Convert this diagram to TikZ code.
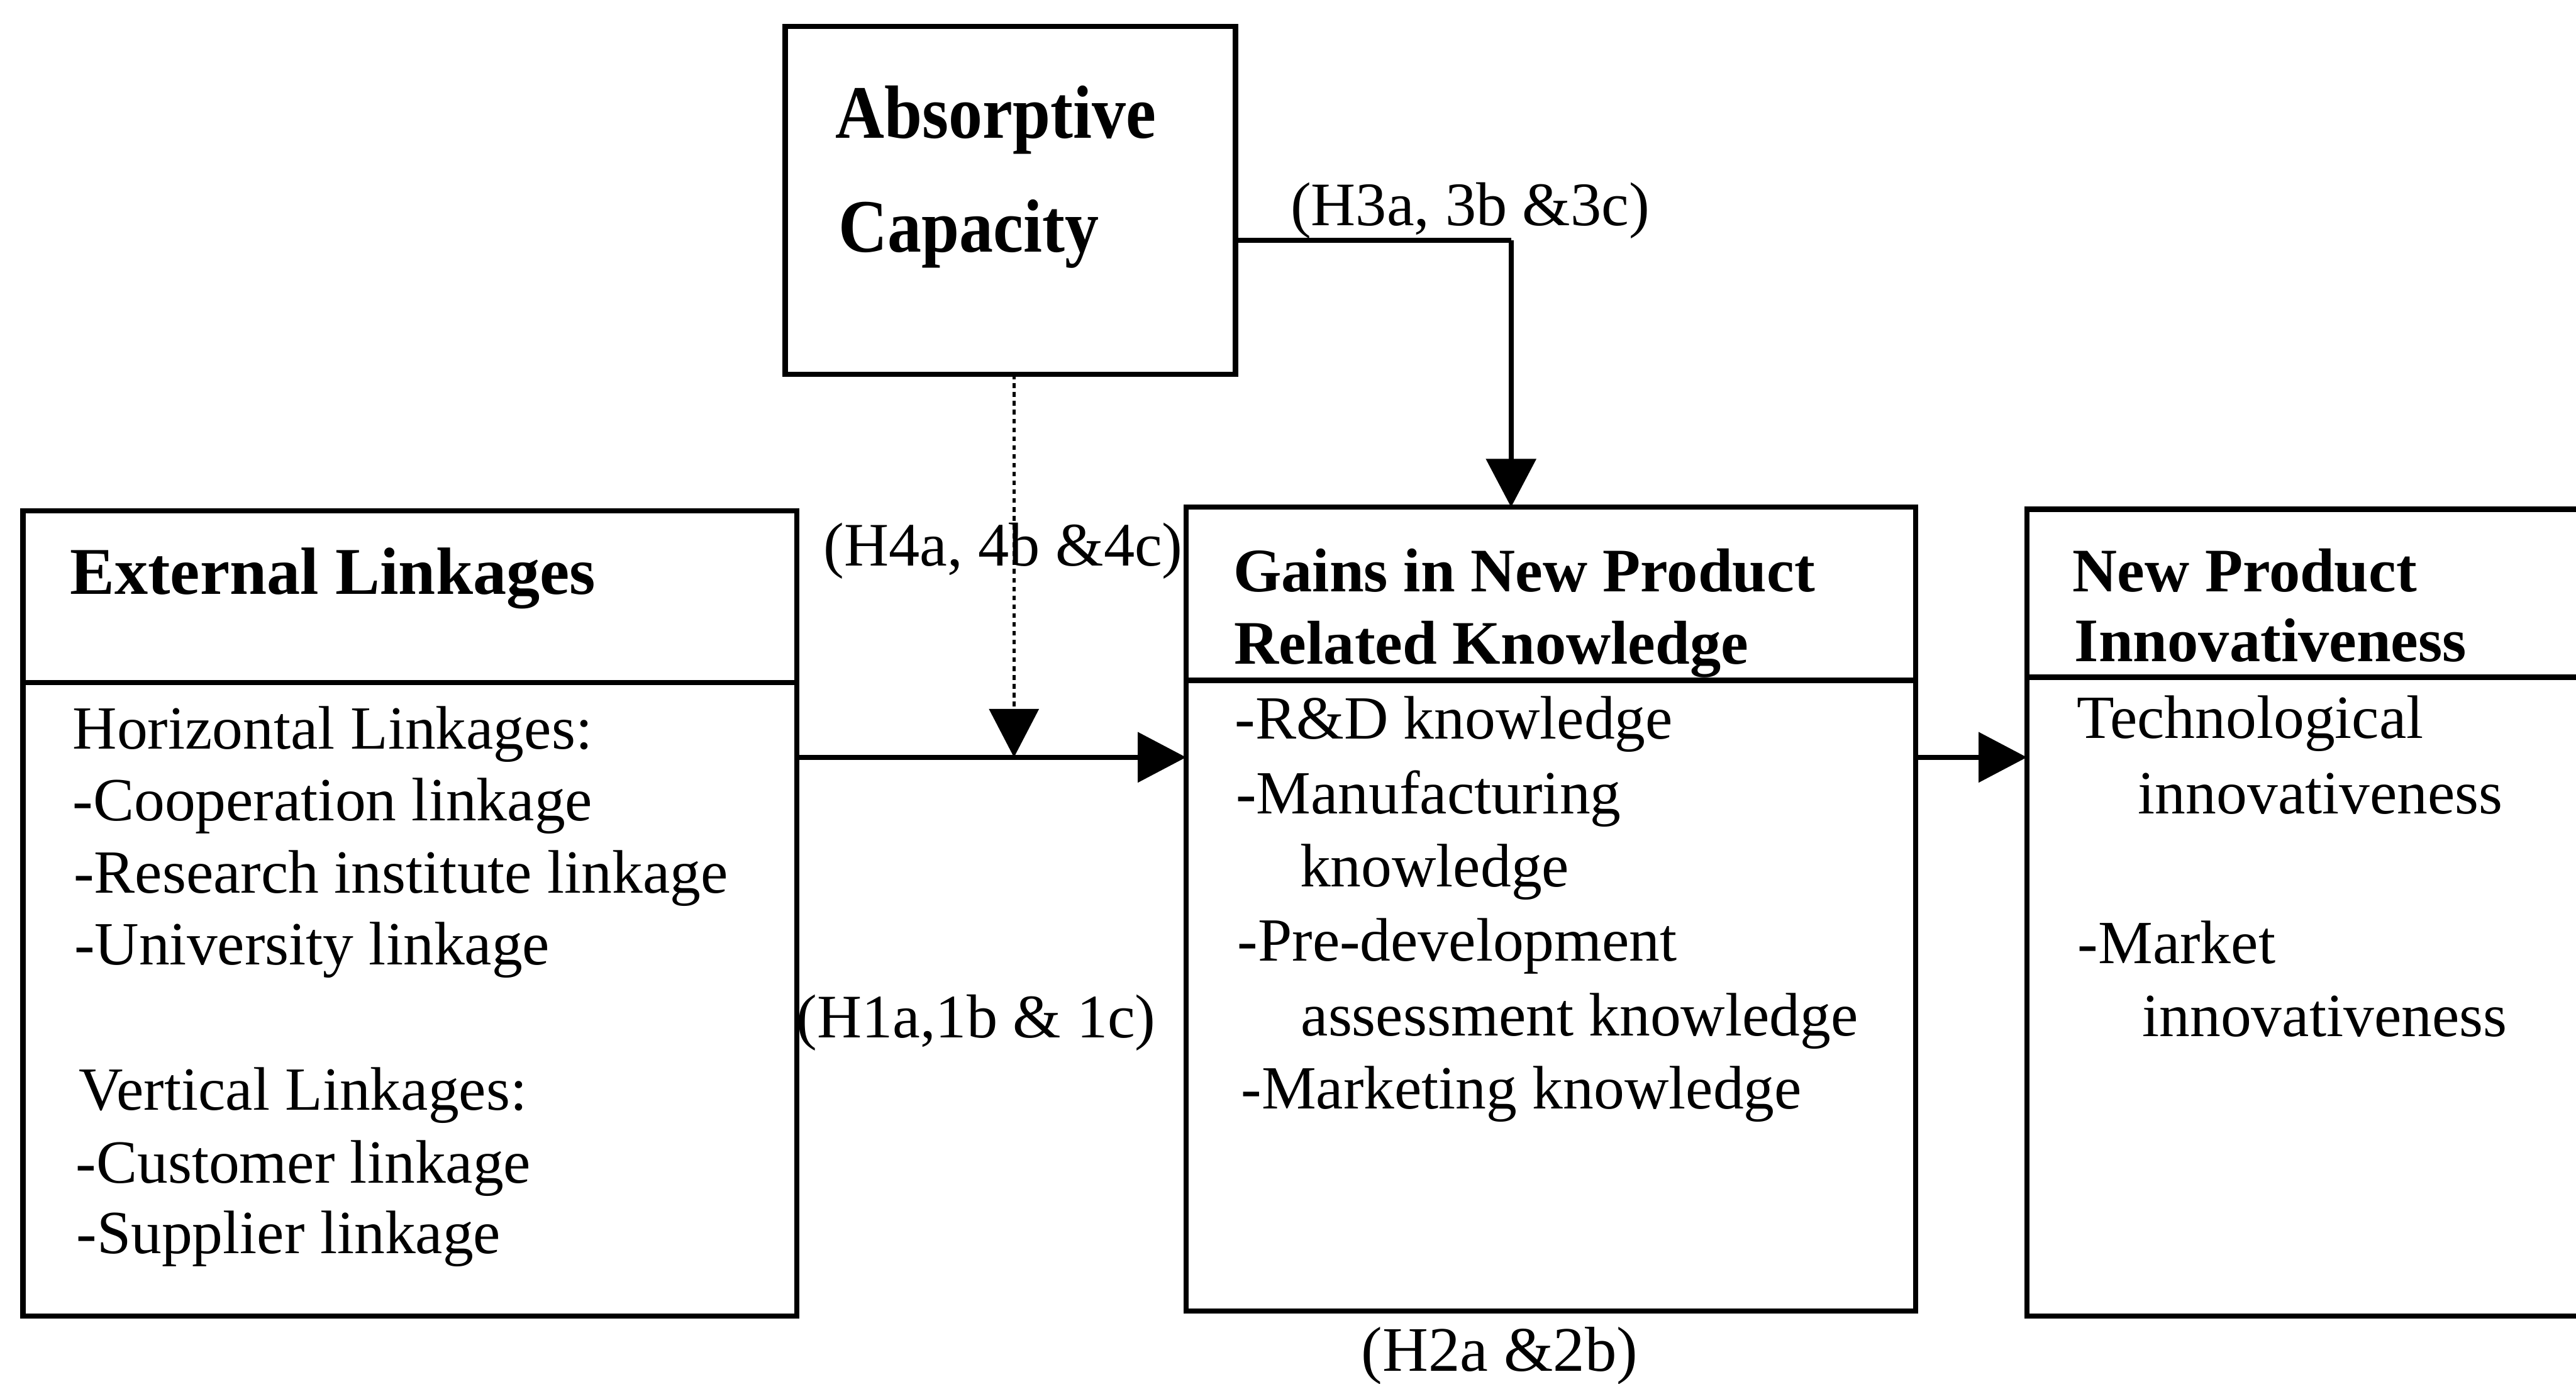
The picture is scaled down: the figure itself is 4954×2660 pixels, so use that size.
\documentclass[tikz,border=0pt]{standalone}
\usepackage{fontspec}
\setmainfont{Liberation Serif}
\newfontfamily\tallserif[FakeStretch=0.9]{Liberation Serif}
\usetikzlibrary{arrows.meta}

\begin{document}
\begin{tikzpicture}[x=0.1pt,y=-0.1pt,
  box/.style={draw, line width=1pt, inner sep=0pt, outer sep=0pt},
  divider/.style={line width=1pt},
  txt/.style={anchor=base west, inner sep=0pt, font=\fontsize{11.8}{14}\selectfont},
  headtxt/.style={anchor=base west, inner sep=0pt, font=\fontsize{11.9}{14}\selectfont\bfseries},
  lbl/.style={anchor=base west, inner sep=0pt, font=\fontsize{11.9}{14}\selectfont},
  link/.style={line width=1pt, -{Triangle[length=9.3pt,width=9.5pt]}},
  modlink/.style={line width=0.6pt, dash pattern=on 0.9pt off 0.8pt,
    -{Triangle[length=9.3pt,width=9.5pt]}},
]
% canvas
\fill[white] (0,0) rectangle (4954,2660);
\useasboundingbox (0,0) rectangle (4954,2660);

% boxes
\node[box, minimum width=86.6pt, minimum height=66.9pt] (ac) at (1943,385.5) {};
\node[box, minimum width=148.8pt, minimum height=154.8pt] (el) at (788,1756) {};
\node[box, minimum width=140.3pt, minimum height=154.6pt] (gk) at (2982.5,1748) {};
\node[box, minimum width=120.2pt, minimum height=155.1pt] (np) at (4499,1754.5) {};

% header dividers
\coordinate (eldiv) at (0,1312);
\coordinate (gkdiv) at (0,1308);
\coordinate (npdiv) at (0,1302);
\draw[divider] (el.west |- eldiv) -- (el.east |- eldiv);
\draw[divider] (gk.west |- gkdiv) -- (gk.east |- gkdiv);
\draw[divider] (np.west |- npdiv) -- (np.east |- npdiv);

% Absorptive Capacity
\node[anchor=base west, inner sep=0pt, font=\tallserif\fontsize{14.5}{16}\selectfont\bfseries] (acA) at (1605,265) {Absorptive};
\node[anchor=base west, inner sep=0pt, font=\tallserif\fontsize{14.5}{16}\selectfont\bfseries] (acB) at (1611,485) {Capacity};

% External Linkages
\node[anchor=base west, inner sep=0pt, font=\fontsize{12.85}{15}\selectfont\bfseries] (elH) at (133,1142) {External Linkages};
\node[txt] (el1) at (138,1440) {Horizontal Linkages:};
\node[txt] (el2) at (138,1578) {-Cooperation linkage};
\node[txt] (el3) at (140,1717) {-Research institute linkage};
\node[txt] (el4) at (141,1855) {-University linkage};
\node[txt] (el5) at (150,2134) {Vertical Linkages:};
\node[txt] (el6) at (144,2274) {-Customer linkage};
\node[txt] (el7) at (145,2410) {-Supplier linkage};

% Gains in New Product Related Knowledge
\node[headtxt] (gkH1) at (2370,1138) {Gains in New Product};
\node[headtxt] (gkH2) at (2372,1277) {Related Knowledge};
\node[txt] (gk1) at (2373,1420) {-R\&D knowledge};
\node[txt] (gk2) at (2375,1564) {-Manufacturing};
\node[txt] (gk3) at (2498,1705) {knowledge};
\node[txt] (gk4) at (2378,1848) {-Pre-development};
\node[txt] (gk5) at (2500,1991) {assessment knowledge};
\node[txt] (gk6) at (2385,2132) {-Marketing knowledge};

% New Product Innovativeness
\node[headtxt] (npH1) at (3984,1138) {New Product};
\node[headtxt] (npH2) at (3988,1272) {Innovativeness};
\node[txt] (np1) at (3992,1419) {Technological};
\node[txt] (np2) at (4110,1565) {innovativeness};
\node[txt] (np3) at (3994,1852) {-Market};
\node[txt] (np4) at (4118,1993) {innovativeness};

% hypothesis labels
\node[lbl] (h3) at (2480,434) {(H3a, 3b \&3c)};
\node[lbl] (h4) at (1582,1088) {(H4a, 4b \&4c)};
\node[lbl] (h1) at (1530,1995) {(H1a,1b \& 1c)};
\node[anchor=base west, inner sep=0pt, font=\fontsize{12.2}{14}\selectfont] (h2) at (2616,2636) {(H2a \&2b)};

% connectors
\coordinate (h3turn) at (2906,462);
\coordinate (rowy) at (0,1456);
\coordinate (modpt) at (1950,1456);
\draw[line width=1pt] (ac.east |- h3turn) -- (h3turn);
\draw[link] (h3turn) -- (gk.north -| h3turn);
\draw[link] (el.east |- rowy) -- (gk.west |- rowy);
\draw[link] (gk.east |- rowy) -- (np.west |- rowy);
\draw[modlink] (ac.south -| modpt) -- (modpt);
\end{tikzpicture}
\end{document}
